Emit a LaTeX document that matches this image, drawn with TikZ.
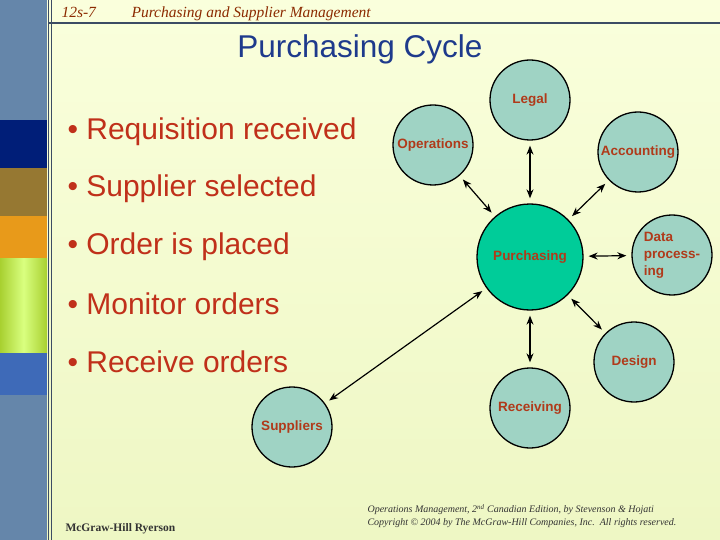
\documentclass[tikz,border=0pt]{standalone}
\usepackage{fontspec}
\setmainfont{Liberation Sans}
\newfontfamily\serifit{Liberation Serif}
\usetikzlibrary{arrows.meta}
\definecolor{bgA}{HTML}{FAFFDC}
\definecolor{bgB}{HTML}{EEF7C4}
\definecolor{barblue}{HTML}{6586AA}
\definecolor{navyb}{HTML}{001E78}
\definecolor{brownb}{HTML}{967832}
\definecolor{orangeb}{HTML}{E89A1A}
\definecolor{greenb}{HTML}{A8D030}
\definecolor{blueb}{HTML}{3E6AB8}
\definecolor{titleblue}{HTML}{1E3A8C}
\definecolor{redtxt}{HTML}{C0301A}
\definecolor{lbl}{HTML}{B03A1A}
\definecolor{circ}{HTML}{9FD3C4}
\definecolor{purch}{HTML}{00CC99}
\definecolor{hdr}{HTML}{8B2A00}
\definecolor{rule}{HTML}{3C4C64}
\begin{document}
\begin{tikzpicture}[x=1pt,y=-1pt,
  bub/.style={circle,draw=black,line width=1.3pt,fill=circ,minimum size=80pt,inner sep=0pt,font=\bfseries\fontsize{13.5}{17}\selectfont,text=lbl},
  bullet/.style={anchor=west,font=\fontsize{30}{32}\selectfont,text=redtxt},
  link/.style={{Stealth[length=9pt,width=7pt]}-{Stealth[length=9pt,width=7pt]},line width=1.2pt,shorten <=5pt,shorten >=5pt}]
\useasboundingbox (0,0) rectangle (720,540);
\shade[top color=bgA,bottom color=bgB] (0,0) rectangle (720,540);
\fill[barblue] (0,0) rectangle (47,540);
\fill[navyb] (0,120) rectangle (47,168);
\fill[brownb] (0,168) rectangle (47,216);
\fill[orangeb] (0,216) rectangle (47,258);
\shade[left color=greenb,right color=greenb,middle color=green!30!yellow!50] (0,258) rectangle (47,353);
\fill[blueb] (0,353) rectangle (47,395);
\draw[rule,line width=0.8pt] (48.5,0) -- (48.5,540) (51.5,0) -- (51.5,540);
\draw[rule,line width=2.5pt] (48,23) -- (720,23);
\node[anchor=base west,text=hdr,font=\serifit\itshape\fontsize{15.5}{17}\selectfont] (h1) at (58,18) {12s-7};
\node[anchor=base west,text=hdr,font=\serifit\itshape\fontsize{15.5}{17}\selectfont] (h2) at (128,18) {Purchasing and Supplier Management};
\node[text=titleblue,font=\fontsize{31.5}{34}\selectfont] (title) at (360,49) {Purchasing Cycle};
\node[bullet] (b1) at (64,132) {• Requisition received};
\node[bullet] (b2) at (64,189) {• Supplier selected};
\node[bullet] (b3) at (64,247) {• Order is placed};
\node[bullet] (b4) at (64,304) {• Monitor orders};
\node[bullet] (b5) at (64,362) {• Receive orders};
\node[bub,fill=purch,minimum size=106pt] (pur) at (530,257) {Purchasing};
\node[bub] (leg) at (530,100) {Legal};
\node[bub] (ops) at (433,145) {Operations};
\node[bub] (acc) at (638,152) {Accounting};
\node[bub,align=left] (dat) at (672,255) {Data\\process-\\ing};
\node[bub] (des) at (634,362) {Design};
\node[bub] (rec) at (530,408) {Receiving};
\node[bub] (sup) at (292,427) {Suppliers};
\foreach \n in {leg,ops,acc,dat,des,rec,sup} \draw[link] (pur) -- (\n);
\node[anchor=west,font=\serifit\bfseries\fontsize{11.5}{13}\selectfont,text=black!80] (mc) at (62,529) {McGraw-Hill Ryerson};
\node[anchor=west,align=left,font=\serifit\itshape\fontsize{10}{12.5}\selectfont,text=black!80] (cp) at (364,516) {Operations Management, 2\textsuperscript{nd} Canadian Edition, by Stevenson \& Hojati\\Copyright © 2004 by The McGraw-Hill Companies, Inc.\ \ All rights reserved.};
\end{tikzpicture}
\end{document}
